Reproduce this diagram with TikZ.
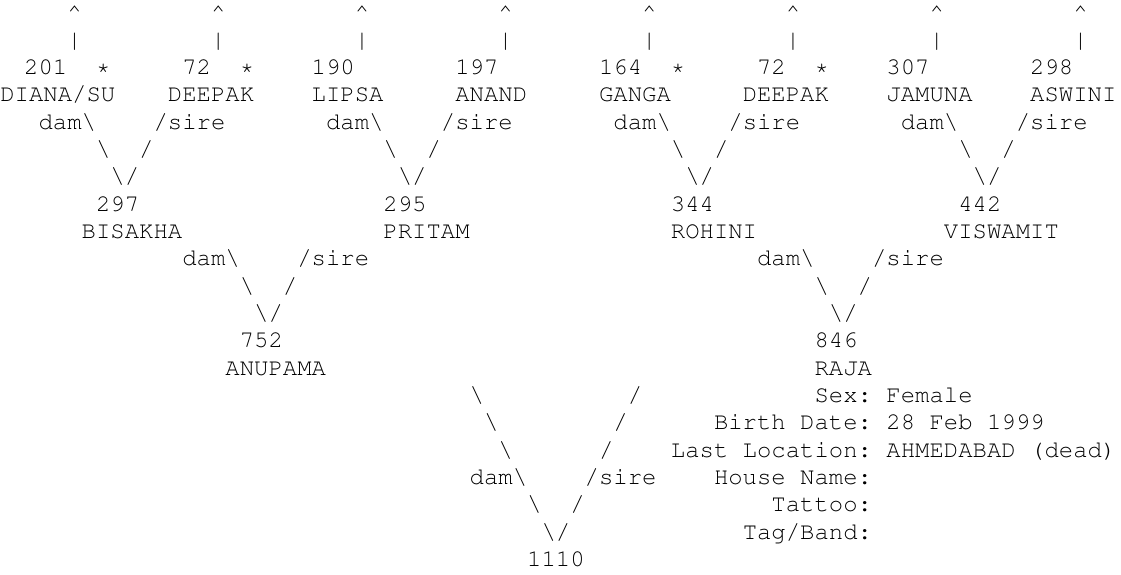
\documentclass[tikz,border=0pt]{standalone}
\usepackage[T1]{fontenc}
\newcommand\bsl{\textbackslash}
\newcommand\crt{\textasciicircum}
\tikzset{txt/.style={anchor=base west, inner sep=0pt, outer sep=0pt,
  font={\frenchspacing\fontfamily{pcr}\fontseries{m}\fontshape{n}\fontsize{23.95}{27.33}\selectfont}, text=black}}
\newcommand\tk[3]{\node[txt] (t#2x#1) at ({#1*14.37-4.5},{-(#2*27.33+20.0)}) {#3};}
\begin{document}
\frenchspacing
\begin{tikzpicture}[x=1pt,y=1pt]
\fill[white] (0,0) rectangle (1121,-574);
\useasboundingbox (0,0) rectangle (1121,-574);
% row 0 and 1
\foreach \c in {5,15,25,35,45,55,65,75}{\tk{\c}{0}{\crt}\tk{\c}{1}{|}}
% row 2
\tk{2}{2}{201}\tk{7}{2}{*}\tk{13}{2}{72}\tk{17}{2}{*}
\tk{22}{2}{190}\tk{32}{2}{197}\tk{42}{2}{164}\tk{47}{2}{*}
\tk{53}{2}{72}\tk{57}{2}{*}\tk{62}{2}{307}\tk{72}{2}{298}
% row 3 (first name nudged right so that its first letter stays inside)
\node[txt] (t3x0) at (0.3,{-(3*27.33+20.0)}) {DIANA/SU};
\tk{12}{3}{DEEPAK}\tk{22}{3}{LIPSA}\tk{32}{3}{ANAND}
\tk{42}{3}{GANGA}\tk{52}{3}{DEEPAK}\tk{62}{3}{JAMUNA}\tk{72}{3}{ASWINI}
% row 4
\tk{3}{4}{dam\bsl}\tk{11}{4}{/sire}\tk{23}{4}{dam\bsl}\tk{31}{4}{/sire}
\tk{43}{4}{dam\bsl}\tk{51}{4}{/sire}\tk{63}{4}{dam\bsl}\tk{71}{4}{/sire}
% row 5
\tk{7}{5}{\bsl}\tk{10}{5}{/}\tk{27}{5}{\bsl}\tk{30}{5}{/}
\tk{47}{5}{\bsl}\tk{50}{5}{/}\tk{67}{5}{\bsl}\tk{70}{5}{/}
% row 6
\tk{8}{6}{\bsl/}\tk{28}{6}{\bsl/}\tk{48}{6}{\bsl/}\tk{68}{6}{\bsl/}
% row 7
\tk{7}{7}{297}\tk{27}{7}{295}\tk{47}{7}{344}\tk{67}{7}{442}
% row 8
\tk{6}{8}{BISAKHA}\tk{27}{8}{PRITAM}\tk{47}{8}{ROHINI}\tk{66}{8}{VISWAMIT}
% row 9
\tk{13}{9}{dam\bsl}\tk{21}{9}{/sire}\tk{53}{9}{dam\bsl}\tk{61}{9}{/sire}
% row 10
\tk{17}{10}{\bsl}\tk{20}{10}{/}\tk{57}{10}{\bsl}\tk{60}{10}{/}
% row 11
\tk{18}{11}{\bsl/}\tk{58}{11}{\bsl/}
% row 12
\tk{17}{12}{752}\tk{57}{12}{846}
% row 13
\tk{16}{13}{ANUPAMA}\tk{57}{13}{RAJA}
% row 14
\tk{33}{14}{\bsl}\tk{44}{14}{/}\tk{57}{14}{Sex: Female}
% row 15
\tk{34}{15}{\bsl}\tk{43}{15}{/}\tk{50}{15}{Birth Date: 28 Feb 1999}
% row 16
\tk{35}{16}{\bsl}\tk{42}{16}{/}\tk{47}{16}{Last Location: AHMEDABAD (dead)}
% row 17
\tk{33}{17}{dam\bsl}\tk{41}{17}{/sire}\tk{50}{17}{House Name:}
% row 18
\tk{37}{18}{\bsl}\tk{40}{18}{/}\tk{54}{18}{Tattoo:}
% row 19
\tk{38}{19}{\bsl/}\tk{52}{19}{Tag/Band:}
% row 20
\tk{37}{20}{1110}
\end{tikzpicture}
\end{document}
